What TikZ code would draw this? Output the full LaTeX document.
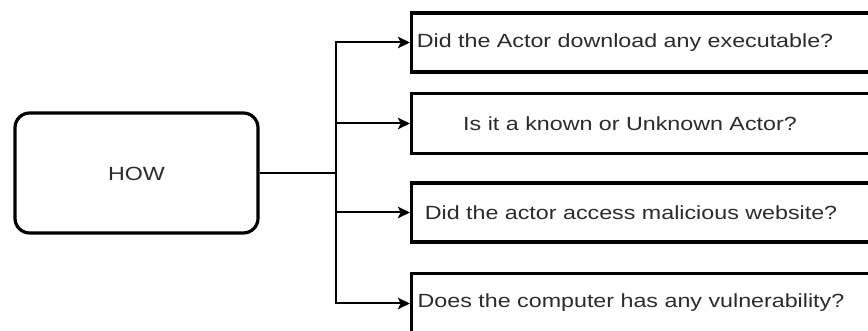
\documentclass[tikz,border=0pt]{standalone}
\usepackage{fontspec}
\setmainfont{Liberation Sans}[FakeStretch=1.22]
\usetikzlibrary{arrows.meta}
\definecolor{labelgray}{HTML}{2B2B2B}
\tikzset{
  howbox/.style={draw=black, line width=2.4pt, rounded corners=11pt, fill=white,
    minimum width=243*0.75pt, minimum height=120*0.75pt, inner sep=0pt},
  qbox/.style={draw=black, line width=2.4pt, fill=white,
    minimum width=480*0.75pt, minimum height=59*0.75pt, inner sep=0pt, anchor=west},
  qtext/.style={text=labelgray, font=\fontsize{14.3pt}{16pt}\selectfont, inner sep=0pt},
  link/.style={draw=black, line width=1.5pt},
  arrowlink/.style={link, -{Stealth[length=9pt, width=8.5pt, inset=2pt]}}
}
\begin{document}
\begin{tikzpicture}[x=0.75pt, y=-0.75pt]
  \useasboundingbox (0,0) rectangle (868,331);
  \clip (0,0) rectangle (868,331);

  % root node
  \node[howbox] (how) at (136.5,173) {};
  \node[qtext] (howtext) at (136.5,174) {HOW};

  % question boxes
  \node[qbox] (q1) at (410,42.5) {};
  \node[qbox, minimum height=60*0.75pt] (q2) at (410,123.5) {};
  \node[qbox] (q3) at (410,212.5) {};
  \node[qbox, minimum height=60*0.75pt] (q4) at (410,303.5) {};

  \node[qtext] (t1) at (625,43) {Did the Actor download any executable?};
  \node[qtext] (t2) at (630,124) {Is it a known or Unknown Actor?};
  \node[qtext] (t3) at (631,213) {Did the actor access malicious website?};
  \node[qtext] (t4) at (631,303) {Does the computer has any vulnerability?};

  % branching connectors
  \coordinate (fork) at (336,173);
  \draw[link] (how.east) -- (fork);
  \draw[arrowlink] (fork) |- (q1.west);
  \draw[arrowlink] (fork) |- (q2.west);
  \draw[arrowlink] (fork) |- (q3.west);
  \draw[arrowlink] (fork) |- (q4.west);
\end{tikzpicture}
\end{document}
